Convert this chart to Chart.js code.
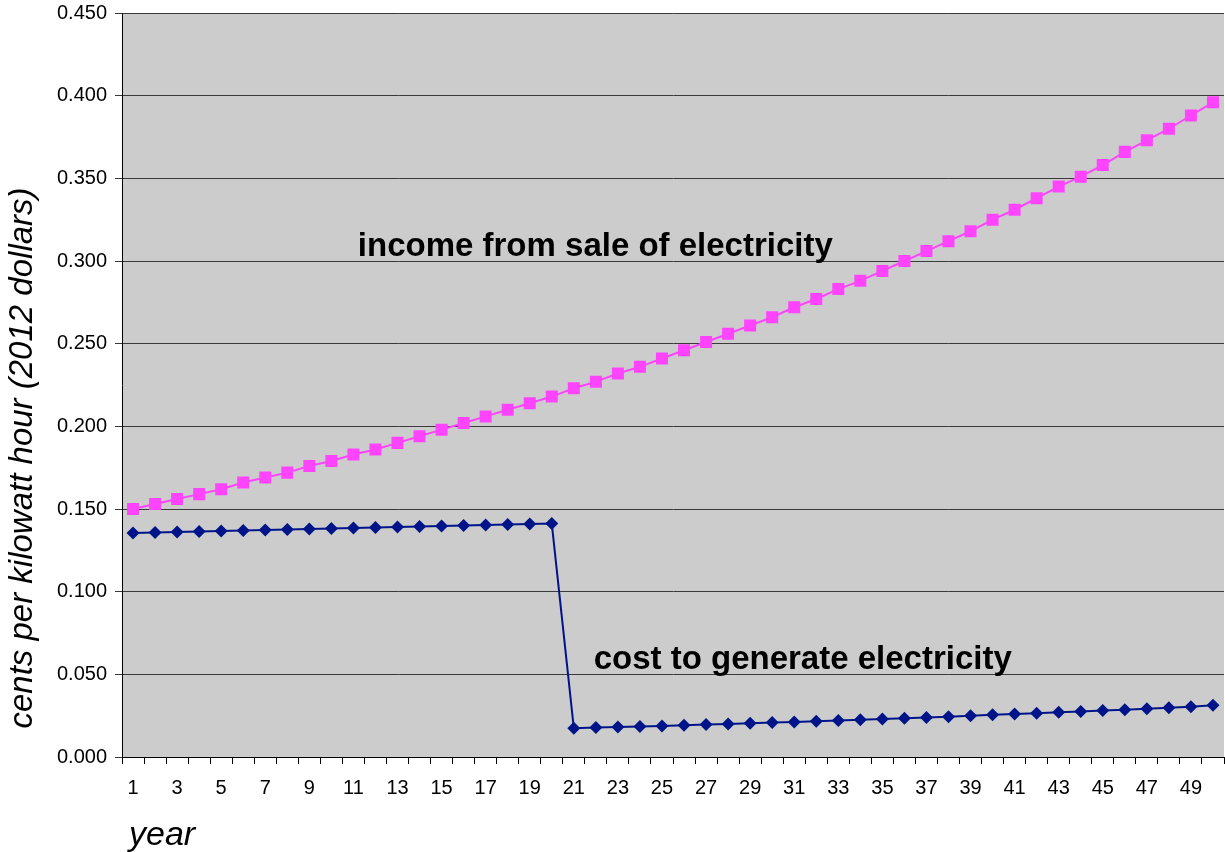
<!DOCTYPE html>
<html>
<head>
<meta charset="utf-8">
<title>income vs cost per kWh</title>
<script src="https://cdn.jsdelivr.net/npm/chart.js@4"></script>
<style>
  html, body { margin: 0; padding: 0; background: #fff; overflow: hidden; }
  #wrap { width: 1225px; height: 852px; position: relative; }
  canvas { display: block; }
</style>
</head>
<body>
<div id="wrap"><canvas id="chart"></canvas></div>
<script>
// values
const years = [];
for (let y = 1; y <= 50; y++) years.push(String(y));

const incomeValues = [
  0.150, 0.153, 0.156, 0.159, 0.162, 0.166, 0.169, 0.172, 0.176, 0.179,
  0.183, 0.186, 0.190, 0.194, 0.198, 0.202, 0.206, 0.210, 0.214, 0.218,
  0.223, 0.227, 0.232, 0.236, 0.241, 0.246, 0.251, 0.256, 0.261, 0.266,
  0.272, 0.277, 0.283, 0.288, 0.294, 0.300, 0.306, 0.312, 0.318, 0.325,
  0.331, 0.338, 0.345, 0.351, 0.358, 0.366, 0.373, 0.380, 0.388, 0.396
];

const costValues = [
  0.1355, 0.1358, 0.1361, 0.1364, 0.1367, 0.1370, 0.1373, 0.1376, 0.1379, 0.1382,
  0.1385, 0.1388, 0.1391, 0.1394, 0.1397, 0.1400, 0.1403, 0.1406, 0.1409, 0.1412,
  0.0174, 0.0178, 0.0181, 0.0185, 0.0188, 0.0192, 0.0196, 0.0200, 0.0204, 0.0208,
  0.0212, 0.0216, 0.0221, 0.0225, 0.0230, 0.0234, 0.0239, 0.0244, 0.0249, 0.0255,
  0.0260, 0.0265, 0.0270, 0.0275, 0.0281, 0.0286, 0.0292, 0.0298, 0.0304, 0.0313
];

const yMin = 0, yMax = 0.45, yStep = 0.05;

const yTitle = 'cents per kilowatt hour (2012 dollars)';
const xTitle = 'year';
const incomeLabel = 'income from sale of electricity';
const costLabel = 'cost to generate electricity';

const FONT = '"Liberation Sans", Arial, Helvetica, sans-serif';

// grey plot area behind everything
const plotBg = {
  id: 'plotBg',
  beforeDraw(chart) {
    const { ctx, chartArea: a } = chart;
    ctx.save();
    ctx.fillStyle = '#cccccc';
    ctx.fillRect(a.left, a.top, a.right - a.left, a.bottom - a.top);
    ctx.restore();
  }
};

// axis titles and the two in-plot labels
const texts = {
  id: 'texts',
  afterDraw(chart) {
    const { ctx, scales } = chart;
    const x = scales.x, y = scales.y;
    ctx.save();
    ctx.fillStyle = '#000';

    // labels placed by data position, near the lines
    ctx.font = 'bold 33px ' + FONT;
    ctx.textBaseline = 'alphabetic';
    ctx.textAlign = 'left';
    ctx.fillText(incomeLabel, x.getPixelForValue(10.2), y.getPixelForValue(0.303));
    ctx.fillText(costLabel, x.getPixelForValue(20.9), y.getPixelForValue(0.0535));

    // y title, rotated
    ctx.font = 'italic 33px ' + FONT;
    ctx.translate(32, 458);
    ctx.rotate(-Math.PI / 2);
    ctx.textAlign = 'center';
    ctx.fillText(yTitle, 0, 0);
    ctx.setTransform(1, 0, 0, 1, 0, 0);

    // x title
    ctx.font = 'italic 34px ' + FONT;
    ctx.textAlign = 'left';
    ctx.fillText(xTitle, 129, 845);
    ctx.restore();
  }
};

new Chart(document.getElementById('chart'), {
  type: 'line',
  data: {
    labels: years,
    datasets: [
      {
        label: incomeLabel,
        data: incomeValues,
        borderColor: '#ff44ff',
        backgroundColor: '#ff44ff',
        borderWidth: 2,
        pointStyle: 'rect',
        pointRadius: 8.5,
        pointBorderWidth: 0,
        pointHoverRadius: 8.5,
        tension: 0
      },
      {
        label: costLabel,
        data: costValues,
        borderColor: '#001489',
        backgroundColor: '#001489',
        borderWidth: 2,
        pointStyle: 'rectRot',
        pointRadius: 6.5,
        pointBorderWidth: 0,
        pointHoverRadius: 6.5,
        tension: 0
      }
    ]
  },
  options: {
    responsive: true,
    maintainAspectRatio: false,
    animation: false,
    devicePixelRatio: 1,
    layout: { autoPadding: false, padding: { top: 13, right: 1, left: 0, bottom: 0 } },
    plugins: {
      legend: { display: false },
      tooltip: { enabled: false }
    },
    scales: {
      x: {
        offset: true,
        afterFit(scale) {
          scale.height = 95;
          scale.paddingLeft = 0;
          scale.paddingRight = 0;
        },
        grid: {
          offset: true,
          drawOnChartArea: false,
          drawTicks: true,
          tickLength: 7,
          color: '#000'
        },
        border: { color: '#000', width: 1 },
        ticks: {
          autoSkip: false,
          maxRotation: 0,
          padding: 12,
          color: '#000',
          font: { family: FONT, size: 20 },
          callback(v, i) { return i % 2 === 0 ? years[i] : ''; }
        }
      },
      y: {
        min: yMin,
        max: yMax,
        afterFit(scale) {
          scale.width = 122;
          scale.paddingTop = 0;
          scale.paddingBottom = 0;
        },
        grid: {
          color: '#3a3a3a',
          lineWidth: 1,
          tickLength: 7,
          drawTicks: true
        },
        border: { color: '#000', width: 1 },
        ticks: {
          stepSize: yStep,
          padding: 8,
          color: '#000',
          font: { family: FONT, size: 20, lineHeight: 1 },
          callback(v) { return Number(v).toFixed(3); }
        }
      }
    }
  },
  plugins: [plotBg, texts]
});
</script>
</body>
</html>
